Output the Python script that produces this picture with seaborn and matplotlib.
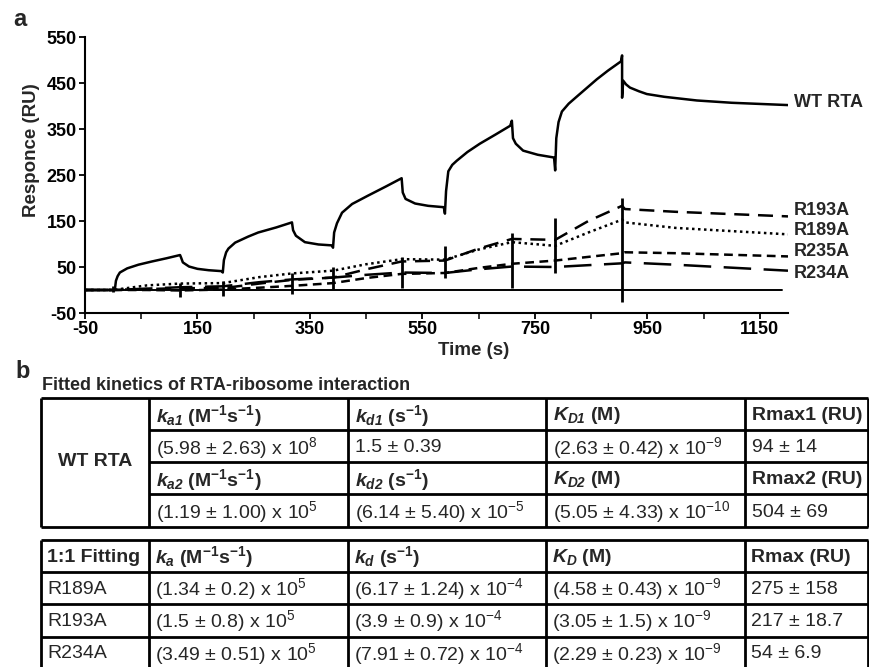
import pandas as pd
import seaborn as sns
from matplotlib import pyplot as plt

# ---- panel a: sensorgram traces (time s, response RU) ----
wt_time = [-50, 3, 5, 8, 12, 25, 45, 69, 95, 119, 121, 124, 135, 150, 170, 193,
           195, 197, 201, 205, 217, 240, 258, 290, 318, 320, 325, 341, 365, 389,
           391, 393, 398, 407, 425, 453, 485, 513, 515, 520, 537, 560, 588,
           590, 592, 596, 603, 611, 630, 652, 680, 706, 709, 711, 716, 729, 755, 784,
           786, 788, 792, 798, 810, 825, 860, 880, 903, 905, 905, 907, 912, 919, 935,
           949, 980, 1038, 1100, 1200]
wt_resp = [0, 0, 20, 30, 38, 47, 55, 62, 69, 76, 70, 60, 51, 46, 43, 41,
           38, 65, 82, 90, 103, 116, 125, 136, 147, 130, 118, 104, 99, 97,
           92, 125, 145, 168, 187, 205, 225, 243, 212, 198, 188, 183, 180,
           166, 215, 258, 272, 281, 300, 318, 338, 357, 368, 330, 318, 303, 294, 288,
           260, 330, 365, 388, 405, 421, 458, 477, 497, 510, 418, 455, 447, 440, 432,
           426, 420, 412, 407, 402]

mut_time = [-50, 0, 60, 119, 195, 260, 318, 391, 450, 513, 590, 650, 709, 786, 845, 905, 910, 1000, 1200]
r193a_resp = [0, 0, 2, 4, 4, 14, 22, 27, 45, 62, 64, 90, 111, 109, 150, 183, 176, 170, 160]
r189a_resp = [0, 0, 10, 14, 15, 28, 36, 42, 56, 67, 66, 88, 104, 96, 125, 153, 147, 135, 121]
r235a_resp = [0, 0, 0, -1, 1, 5, 9, 15, 26, 35, 37, 48, 57, 64, 72, 80, 82, 80, 73]
r234a_resp = [0, 0, 3, 6, 8, 17, 23, 27, 33, 38, 37, 45, 51, 50, 54, 58, 60, 55, 42]

base_time = [-50, 1190]
base_resp = [0, 0]

spike_time = [0, 119, 195, 318, 391, 513, 590, 709, 786, 905]
spike_low = [-5, -15, -12, -8, 2, 5, 27, 5, 36, -27]
spike_high = [8, 16, 20, 36, 49, 71, 96, 125, 157, 200]

trace_names = ['WT RTA', 'R193A', 'R189A', 'R235A', 'R234A']
label_resp = [408, 173, 129, 84, 36]

# ---- panel b: fitted kinetics tables ----
wt_head1 = [r'$k_{\mathsf{a1}}$ (M$^{\mathbf{-1}}$s$^{\mathbf{-1}}$)', r'$k_{\mathsf{d1}}$ (s$^{\mathbf{-1}}$)',
            r'$K_{\mathsf{D1}}$ (M)', 'Rmax1 (RU)']
wt_vals1 = [r'(5.98 ± 2.63) x 10$^{8}$', '1.5 ± 0.39', r'(2.63 ± 0.42) x 10$^{-9}$', '94 ± 14']
wt_head2 = [r'$k_{\mathsf{a2}}$ (M$^{\mathbf{-1}}$s$^{\mathbf{-1}}$)', r'$k_{\mathsf{d2}}$ (s$^{\mathbf{-1}}$)',
            r'$K_{\mathsf{D2}}$ (M)', 'Rmax2 (RU)']
wt_vals2 = [r'(1.19 ± 1.00) x 10$^{5}$', r'(6.14 ± 5.40) x 10$^{-5}$', r'(5.05 ± 4.33) x 10$^{-10}$', '504 ± 69']

fit_head = ['1:1 Fitting', r'$k_{\mathsf{a}}$ (M$^{\mathbf{-1}}$s$^{\mathbf{-1}}$)', r'$k_{\mathsf{d}}$ (s$^{\mathbf{-1}}$)',
            r'$K_{\mathsf{D}}$ (M)', 'Rmax (RU)']
fit_rows = [
    ['R189A', r'(1.34 ± 0.2) x 10$^{5}$', r'(6.17 ± 1.24) x 10$^{-4}$', r'(4.58 ± 0.43) x 10$^{-9}$', '275 ± 158'],
    ['R193A', r'(1.5 ± 0.8) x 10$^{5}$', r'(3.9 ± 0.9) x 10$^{-4}$', r'(3.05 ± 1.5) x 10$^{-9}$', '217 ± 18.7'],
    ['R234A', r'(3.49 ± 0.51) x 10$^{5}$', r'(7.91 ± 0.72) x 10$^{-4}$', r'(2.29 ± 0.23) x 10$^{-9}$', '54 ± 6.9'],
]

sns.set_style('ticks')
plt.rcParams['font.family'] = ['Liberation Sans', 'DejaVu Sans']
plt.rcParams['axes.unicode_minus'] = False
plt.rcParams['mathtext.fontset'] = 'custom'
plt.rcParams['mathtext.rm'] = 'Liberation Sans:weight=normal'
plt.rcParams['mathtext.it'] = 'Liberation Sans:italic:bold'
plt.rcParams['mathtext.sf'] = 'Liberation Sans:italic:bold'
plt.rcParams['mathtext.bf'] = 'Liberation Sans:bold'

fig = plt.figure(figsize=(8.7, 6.67), dpi=100)
ax = fig.add_axes([85 / 870, 1 - 313 / 667, 703 / 870, 276 / 667])

traces = [wt_resp, r193a_resp, r189a_resp, r235a_resp, r234a_resp]
times = [wt_time, mut_time, mut_time, mut_time, mut_time]
df = pd.concat([pd.DataFrame({'time': t, 'resp': r, 'sample': n})
                for n, t, r in zip(trace_names, times, traces)], ignore_index=True)

dash_map = {'WT RTA': '', 'R193A': (6, 3.5), 'R189A': (1, 1.4),
            'R235A': (3.5, 2.2), 'R234A': (11, 5)}
sns.lineplot(data=df, x='time', y='resp', style='sample', dashes=dash_map,
             color='black', estimator=None, sort=False, legend=False, lw=1.8, ax=ax)
ax.plot(base_time, base_resp, color='black', lw=1.4)
ax.vlines(spike_time, spike_low, spike_high, color='black', lw=2)

for name, y in zip(trace_names, label_resp):
    ax.text(1210, y, name, fontsize=13, fontweight='bold', va='center', ha='left')

ax.set_xlim(-50, 1200)
ax.set_ylim(-50, 550)
ax.set_xticks(range(-50, 1151, 200))
ax.set_xticks(range(50, 1200, 200), minor=True)
ax.set_yticks(range(-50, 551, 100))
ax.tick_params(axis='both', labelsize=13, length=4, width=1.3, pad=2, colors='black')
ax.tick_params(axis='x', which='minor', length=4, width=1.3)
for lab in ax.get_xticklabels() + ax.get_yticklabels():
    lab.set_fontweight('bold')
sns.despine(ax=ax)
for s in ['left', 'bottom']:
    ax.spines[s].set_linewidth(1.5)
    ax.spines[s].set_color('black')
ax.set_xlabel('Time (s)', fontsize=13.5, fontweight='bold')
ax.set_ylabel('Responce (RU)', fontsize=13.5, fontweight='bold')
ax.xaxis.set_label_coords(0.553, -0.105)
ax.yaxis.set_label_coords(-0.064, 0.59)

fig.text(13 / 870, 1 - 26 / 667, 'a', fontsize=17, fontweight='bold')
fig.text(15 / 870, 1 - 378 / 667, 'b', fontsize=17, fontweight='bold')

# tables drawn on an overlay in pixel units
tab = fig.add_axes([0, 0, 1, 1])
tab.set_xlim(0, 870)
tab.set_ylim(667, 0)
tab.axis('off')

tab.text(42, 386, 'Fitted kinetics of RTA-ribosome interaction', fontsize=13,
         fontweight='bold', va='center')

col_x = [41, 149, 348, 546, 745, 868]
t1_y = [398, 430, 462, 494, 527]
t2_y = [540, 572, 604, 637, 669]
lw = 2

tab.hlines([t1_y[0], t1_y[-1]], col_x[0], col_x[-1], color='black', lw=lw)
tab.hlines(t1_y[1:-1], col_x[1], col_x[-1], color='black', lw=lw)
tab.vlines(col_x, t1_y[0], t1_y[-1], color='black', lw=lw)
tab.hlines(t2_y, col_x[0], col_x[-1], color='black', lw=lw)
tab.vlines(col_x, t2_y[0], 700, color='black', lw=lw)

tab.text((col_x[0] + col_x[1]) / 2, t1_y[2], 'WT RTA', fontsize=14, fontweight='bold',
         ha='center', va='center')
for row, (cells, bold) in enumerate([(wt_head1, True), (wt_vals1, False),
                                     (wt_head2, True), (wt_vals2, False)]):
    yc = (t1_y[row] + t1_y[row + 1]) / 2 + 2
    for j, txt in enumerate(cells):
        tab.text(col_x[j + 1] + 7, yc, txt, fontsize=14,
                 fontweight='bold' if bold else 'normal', va='center')

for row, cells in enumerate([fit_head] + fit_rows):
    yc = (t2_y[row] + t2_y[row + 1]) / 2 + 1
    for j, txt in enumerate(cells):
        tab.text(col_x[j] + 6, yc, txt, fontsize=14,
                 fontweight='bold' if row == 0 else 'normal', va='center')

fig.savefig('out.png', dpi=100, facecolor='white')
